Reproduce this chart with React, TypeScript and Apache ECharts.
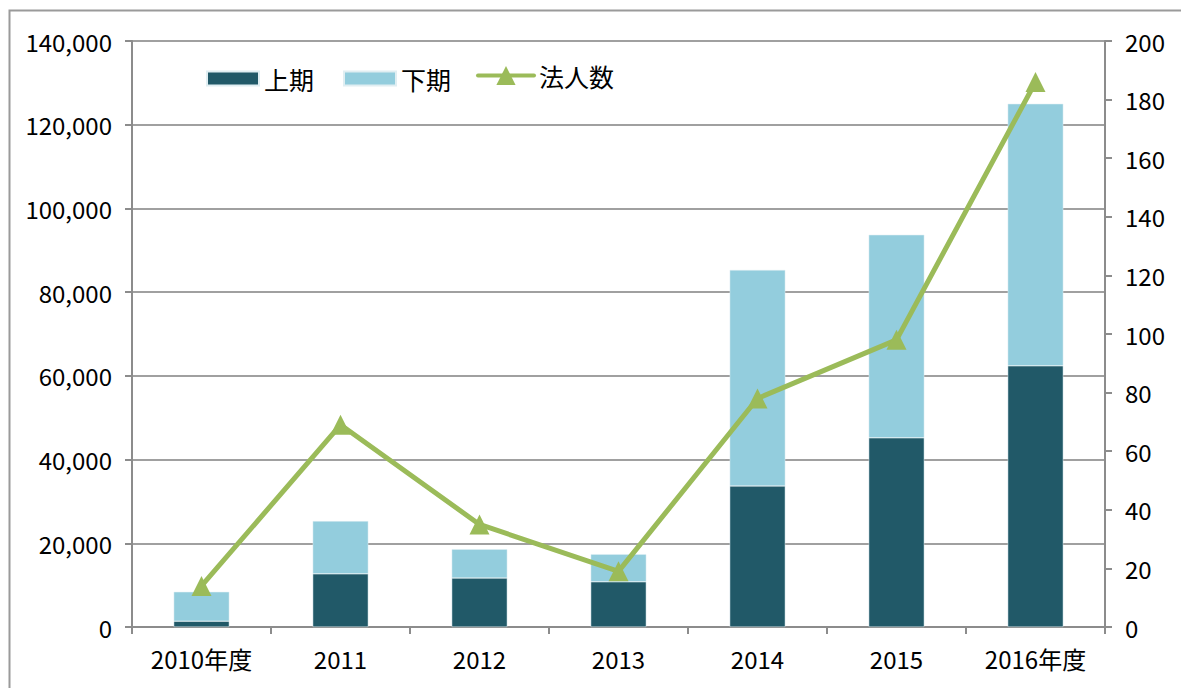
import React, { useEffect, useRef } from "react";
import * as echarts from "echarts";

const categories = ["2010年度", "2011", "2012", "2013", "2014", "2015", "2016年度"];
const firstHalf = [1400, 12700, 11700, 10800, 33700, 45200, 62400];
const secondHalf = [7000, 12600, 6900, 6600, 51600, 48500, 62600];
const corporations = [14, 69, 35, 19, 78, 98, 186];
const leftTicks = [0, 20000, 40000, 60000, 80000, 100000, 120000, 140000];

const FONT = "'Noto Sans CJK JP', 'Liberation Sans', sans-serif";

export default function App() {
  const ref = useRef<HTMLDivElement>(null);
  useEffect(() => {
    if (!ref.current) return;
    const chart = echarts.init(ref.current, undefined, { renderer: "svg" });
    const legendText = { fontSize: 25, color: "#000", fontFamily: FONT };
    chart.setOption({
      animation: false,
      backgroundColor: "#ffffff",
      textStyle: { fontFamily: FONT },
      graphic: [
        {
          type: "rect",
          shape: { x: 9.5, y: 10.5, width: 1200, height: 700 },
          style: { fill: "none", stroke: "#9a9a9a", lineWidth: 2 },
          silent: true,
        },
      ],
      legend: [
        {
          left: 201,
          top: 61,
          itemWidth: 52,
          itemHeight: 14,
          itemGap: 29,
          textStyle: legendText,
          data: [
            { name: "上期", icon: "rect" },
            { name: "下期", icon: "rect" },
          ],
        },
        {
          left: 471,
          top: 58,
          itemWidth: 56,
          itemHeight: 24,
          textStyle: legendText,
          lineStyle: { width: 4, cap: "round" },
          data: [{ name: "法人数" }],
        },
      ],
      grid: { left: 132, right: 76, top: 41, bottom: 61 },
      xAxis: {
        type: "category",
        data: categories,
        axisLine: { lineStyle: { color: "#8c8c8c", width: 2 } },
        axisTick: { show: true, length: 7, lineStyle: { color: "#8c8c8c", width: 2 } },
        axisLabel: { fontSize: 24, color: "#000", margin: 19, fontFamily: FONT },
      },
      yAxis: [
        {
          type: "value",
          min: 0,
          max: 140000,
          interval: 20000,
          axisLine: { show: true, lineStyle: { color: "#8c8c8c", width: 2 } },
          axisTick: { show: true, length: 7, lineStyle: { color: "#8c8c8c", width: 2 } },
          splitLine: { lineStyle: { color: "#a0a0a0", width: 2 } },
          axisLabel: {
            fontSize: 24,
            color: "#000",
            margin: 20,
            fontFamily: FONT,
            formatter: (v: number) => (leftTicks.includes(v) ? v.toLocaleString("en-US") : ""),
          },
        },
        {
          type: "value",
          min: 0,
          max: 200,
          interval: 20,
          position: "right",
          axisLine: { show: true, lineStyle: { color: "#8c8c8c", width: 2 } },
          axisTick: { show: true, length: 7, lineStyle: { color: "#8c8c8c", width: 2 } },
          splitLine: { show: false },
          axisLabel: { fontSize: 24, color: "#000", margin: 20, fontFamily: FONT },
        },
      ],
      series: [
        {
          name: "上期",
          type: "bar",
          stack: "total",
          data: firstHalf,
          barWidth: "40%",
          itemStyle: { color: "#215968", borderColor: "#e0eef2", borderWidth: 0.5 },
        },
        {
          name: "下期",
          type: "bar",
          stack: "total",
          data: secondHalf,
          barWidth: "40%",
          itemStyle: { color: "#93cddd", borderColor: "#e0eef2", borderWidth: 0.5 },
        },
        {
          name: "法人数",
          type: "line",
          yAxisIndex: 1,
          data: corporations,
          symbol: "triangle",
          symbolSize: 20,
          lineStyle: { color: "#9bbb59", width: 5 },
          itemStyle: { color: "#9bbb59" },
          z: 5,
        },
      ],
    });
    return () => chart.dispose();
  }, []);
  return (
    <div
      ref={ref}
      style={{ position: "absolute", left: 0, top: 0, width: 1181, height: 688 }}
    />
  );
}
